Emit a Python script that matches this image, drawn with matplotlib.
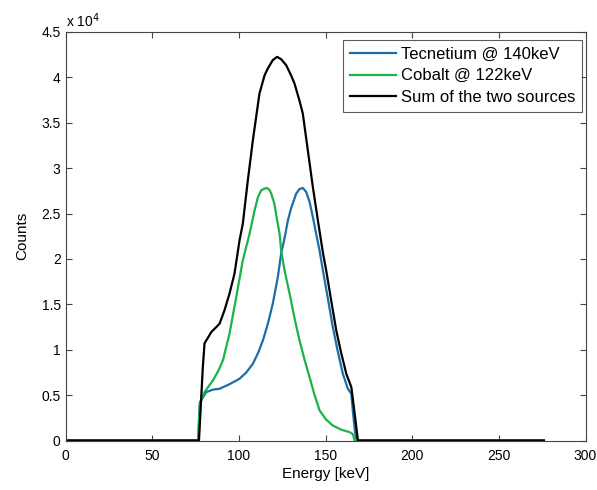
import matplotlib
matplotlib.use("Agg")
import matplotlib.pyplot as plt

plt.rcParams['font.family'] = ['Liberation Sans', 'DejaVu Sans']

# Tecnetium @ 140keV
tc_e = [0, 76.5, 77.5, 81.2, 85, 88.9, 94.6, 100.4, 104.3, 108.1, 111, 113.9, 116.8, 119.6,
        122.5, 124.4, 126.4, 128.3, 130.2, 133.1, 135, 136.9, 138.8, 140.8, 142.7, 144.6,
        146.6, 148.5, 151.4, 154.2, 157.1, 160, 162.9, 164.9, 165.8, 167, 168, 276]
tc_c = [0, 0, 4200, 5330, 5600, 5700, 6200, 6800, 7500, 8450, 9600, 11030, 12900, 15070,
        18000, 20580, 22300, 24250, 25600, 27200, 27700, 27820, 27400, 26300, 24620, 22790,
        20900, 18740, 15600, 12500, 9800, 7350, 5700, 5150, 3200, 1000, 0, 0]

# Cobalt @ 122keV
co_e = [0, 76.5, 77.5, 80.2, 85, 88, 90.8, 94.6, 98.5, 102.3, 106.2, 109.1, 111, 112.9, 114.8,
        116.2, 117.7, 118.7, 120.6, 121.6, 123.5, 124.4, 126.4, 129.3, 132.1, 135, 137.9,
        140.8, 143.7, 146.6, 150.4, 154.2, 159, 163.9, 165.8, 166.8, 276]
co_c = [0, 0, 4000, 5330, 6610, 7600, 8820, 11760, 15800, 19850, 22790, 25360, 26800, 27560,
        27750, 27820, 27600, 27200, 26000, 24800, 22790, 20950, 18700, 16170, 13500, 11030,
        8900, 6980, 5000, 3310, 2300, 1650, 1200, 920, 700, 0, 0]

# Sum of the two sources
sum_e = [0, 77, 79.2, 80.2, 84.1, 88.9, 91.7, 94.6, 97.5, 100.4, 102.3, 105.2, 108.1, 111.9,
         114.8, 116.7, 119.6, 122.1, 124.4, 127.3, 130.2, 132.1, 134.9, 136.9, 139.8, 142.7,
         145.6, 148.5, 150.4, 153.3, 156.2, 159.1, 162, 164.9, 166.8, 168.7, 276]
sum_c = [0, 0, 8000, 10700, 11940, 12870, 14330, 16170, 18380, 22050, 23880, 28670, 33080,
         38220, 40200, 40980, 41900, 42260, 42000, 41350, 40200, 39330, 37500, 36020, 31970,
         27930, 24250, 20700, 18740, 15400, 12130, 9600, 7350, 5880, 3000, 0, 0]

fig = plt.figure(figsize=(5.97, 4.90), dpi=100)
ax = fig.add_axes([65.5 / 597, 1 - 440.5 / 490, 520 / 597, 408.5 / 490])

ax.plot(tc_e, tc_c, color='#1a6fa8', lw=1.6, label='Tecnetium @ 140keV')
ax.plot(co_e, co_c, color='#1ab34a', lw=1.6, label='Cobalt @ 122keV')
ax.plot(sum_e, sum_c, color='black', lw=1.6, label='Sum of the two sources')

ax.set_xlim(0, 300)
ax.set_ylim(0, 45000)
ax.set_xticks(range(0, 301, 50))
ax.set_yticks(range(0, 45001, 5000))
ax.set_yticklabels(['0', '0.5', '1', '1.5', '2', '2.5', '3', '3.5', '4', '4.5'])
ax.tick_params(direction='in', top=True, right=True, length=4, labelsize=10,
               color='#444444', width=0.8)
ax.tick_params(axis='x', pad=6)
for s in ax.spines.values():
    s.set_color('#444444')
    s.set_linewidth(0.8)

ax.set_xlabel('Energy [keV]', fontsize=11, labelpad=3)
ax.set_ylabel('Counts', fontsize=11, labelpad=9)
ax.text(0.0, 1.005, r'x 10$^{4}$', transform=ax.transAxes, fontsize=10,
        ha='left', va='bottom')

leg = ax.legend(loc='upper right', bbox_to_anchor=(0.9933, 0.9804), fontsize=12,
                frameon=True, fancybox=False, edgecolor='#333333', borderaxespad=0,
                handlelength=2.75, handletextpad=0.3, labelspacing=0.4, borderpad=0.4)
leg.get_frame().set_linewidth(0.8)

fig.savefig('out.png', dpi=100)
